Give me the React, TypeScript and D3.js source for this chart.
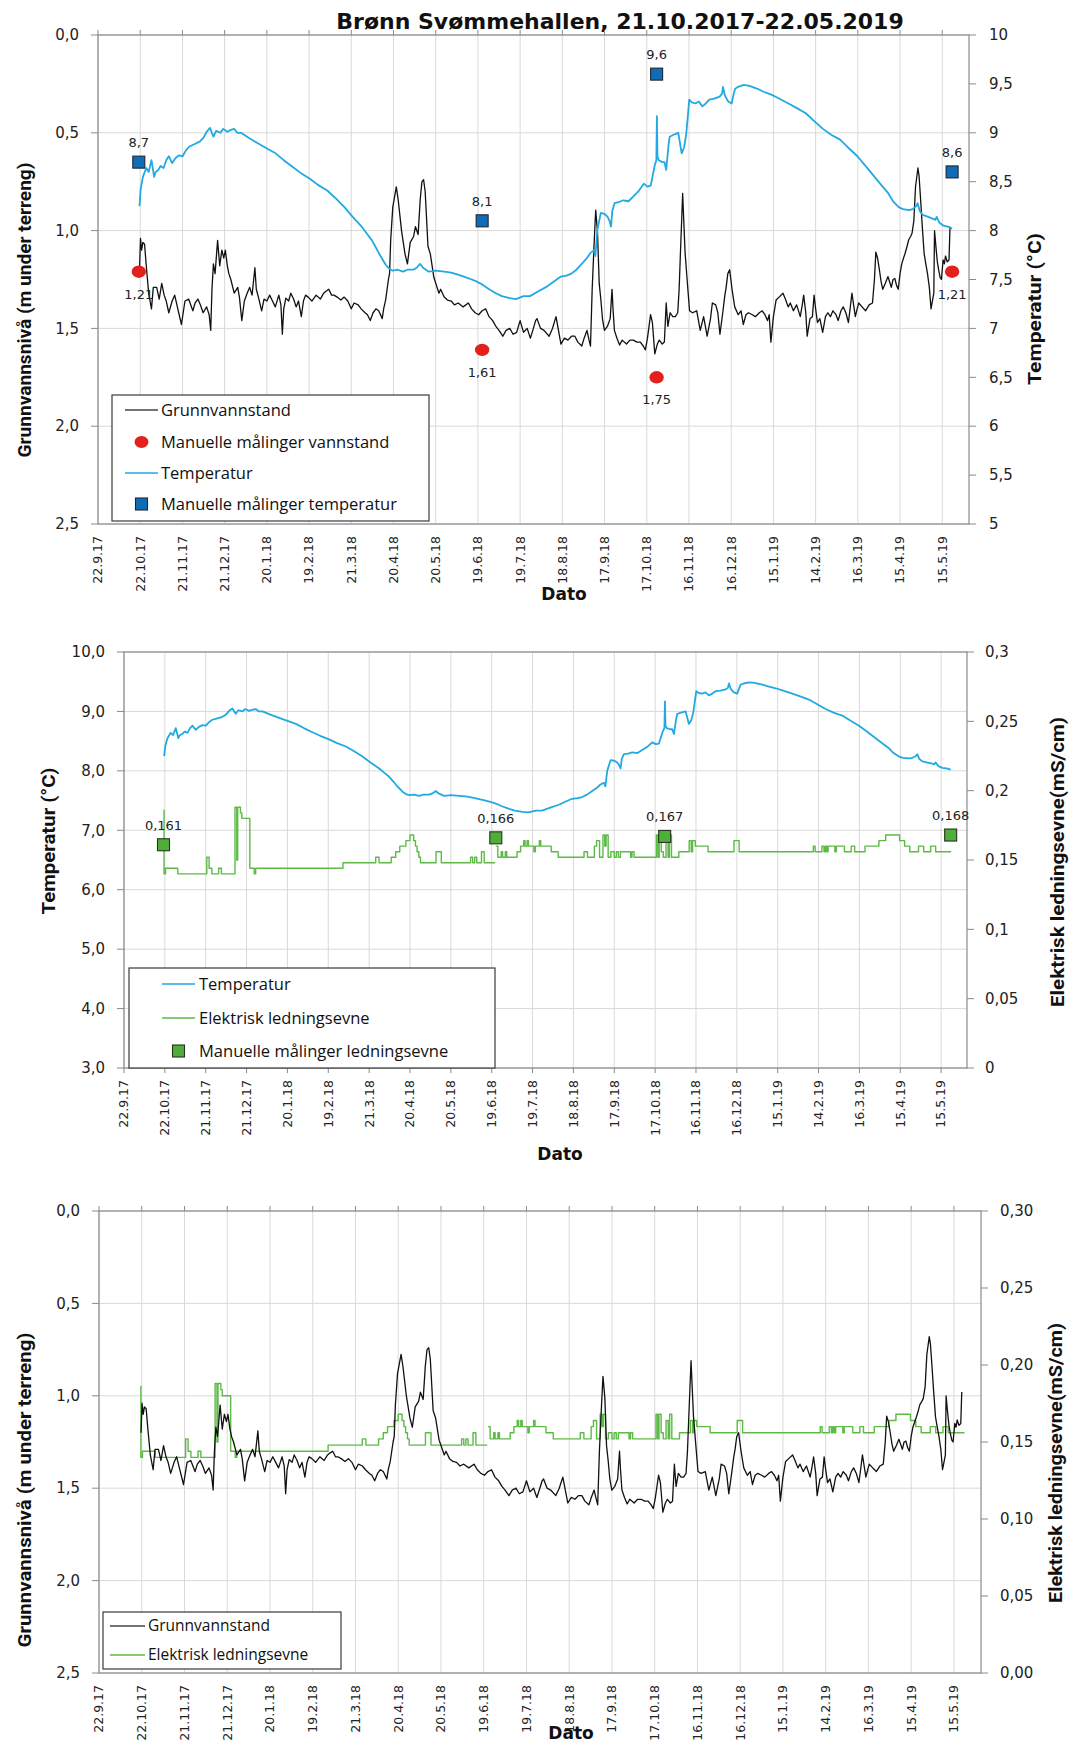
import React from "react";
import * as d3 from "d3";

const W = 1071;
const H = 1746;

// x axis: Excel date axis, labels every 30 days
const xTickLabels = [
  "22.9.17", "22.10.17", "21.11.17", "21.12.17", "20.1.18", "19.2.18", "21.3.18",
  "20.4.18", "20.5.18", "19.6.18", "19.7.18", "18.8.18", "17.9.18", "17.10.18",
  "16.11.18", "16.12.18", "15.1.19", "14.2.19", "16.3.19", "15.4.19", "15.5.19",
];
const xAxisEnd = "3.6.19";

const levelTicks = [0, 0.5, 1, 1.5, 2, 2.5];
const tempTicksFine = [5, 5.5, 6, 6.5, 7, 7.5, 8, 8.5, 9, 9.5, 10];
const tempTicksCoarse = [3, 4, 5, 6, 7, 8, 9, 10];
const condTicks = [0, 0.05, 0.1, 0.15, 0.2, 0.25, 0.3];

// manual measurements
const manualDates = ["21.10.17", "22.6.18", "24.10.18", "22.5.19"];
const manualLevel = [1.21, 1.61, 1.75, 1.21];
const manualTemp = [8.7, 8.1, 9.6, 8.6];
const manualCond = [0.161, 0.166, 0.167, 0.168];

// logger series: [days after 22.9.17, value]
// groundwater level, m below ground
const levelSeries: [number, number][] = [
  [29.5, 1.2], [30.2, 1.04], [31, 1.1], [31.9, 1.06], [33.1, 1.07], [34.3, 1.18], [36, 1.32], [38, 1.4],
  [39.3, 1.29], [41.7, 1.29], [43.5, 1.35], [45.3, 1.27], [47, 1.33], [48.5, 1.36], [50.3, 1.42], [52.7, 1.36],
  [54.5, 1.33], [56.4, 1.39], [59.3, 1.48], [61.8, 1.36], [64.4, 1.35], [67.4, 1.41], [69, 1.37], [71, 1.35],
  [72.8, 1.38], [74.7, 1.42], [77.2, 1.39], [79, 1.43], [80.1, 1.51], [81, 1.3], [82, 1.17], [83.2, 1.22],
  [85, 1.05], [86.5, 1.18], [88, 1.1], [89.4, 1.14], [90.5, 1.1], [91.9, 1.18], [93, 1.22], [94.4, 1.25],
  [96.8, 1.32], [99.3, 1.29], [100.5, 1.34], [102.2, 1.46], [104, 1.36], [106, 1.32], [107.8, 1.29], [109.5, 1.33],
  [111.5, 1.19], [112.5, 1.3], [114, 1.34], [116.3, 1.41], [118, 1.35], [120, 1.36], [122, 1.33], [124, 1.36],
  [126, 1.39], [128.5, 1.33], [130, 1.38], [131, 1.53], [132, 1.4], [133.5, 1.345], [135.5, 1.36], [137, 1.32],
  [139, 1.35], [140.8, 1.39], [142.5, 1.36], [144.5, 1.44], [146, 1.36], [147.5, 1.33], [149.4, 1.34], [152, 1.36],
  [155, 1.33], [158, 1.35], [160.4, 1.32], [162, 1.31], [164, 1.3], [166, 1.33], [167.7, 1.33], [170, 1.34],
  [172.6, 1.355], [175, 1.34], [177.5, 1.36], [180, 1.4], [182, 1.37], [184.9, 1.38], [187, 1.4], [189.8, 1.42],
  [191.5, 1.43], [193.5, 1.46], [195.5, 1.42], [197.5, 1.4], [199.5, 1.41], [202, 1.45], [203, 1.4], [204.4, 1.355],
  [206.4, 1.25], [207.2, 1.22], [208, 1.05], [209.5, 0.88], [212, 0.776], [213.3, 0.84], [215.7, 1.0], [218.2, 1.12],
  [219.9, 1.17], [221.9, 1.06], [224.3, 1.03], [225.6, 0.98], [227.5, 1.02], [229, 0.84], [230.2, 0.75], [231.4, 0.74],
  [232.5, 0.8], [233.3, 0.91], [234.5, 1.08], [236.2, 1.12], [238.7, 1.24], [240.5, 1.28], [242.3, 1.32], [243.5, 1.3],
  [246, 1.34], [248.4, 1.355], [251, 1.36], [253.3, 1.38], [256, 1.37], [259.5, 1.39], [263.2, 1.37], [265.5, 1.4],
  [268, 1.42], [270.5, 1.43], [273, 1.41], [275.5, 1.4], [277.9, 1.44], [280.5, 1.46], [282.8, 1.49], [285, 1.51],
  [287.7, 1.54], [290, 1.51], [292.6, 1.5], [295, 1.53], [297.5, 1.52], [300, 1.46], [302.4, 1.52], [305, 1.5],
  [307.3, 1.55], [309, 1.51], [311, 1.46], [312, 1.45], [314.5, 1.5], [317, 1.51], [320.6, 1.54], [323, 1.5],
  [325.5, 1.44], [327, 1.5], [329, 1.58], [331.5, 1.55], [334, 1.56], [336.5, 1.54], [338.9, 1.54], [341, 1.57],
  [343.8, 1.59], [345.5, 1.55], [347.5, 1.51], [349, 1.56], [350, 1.59], [351.2, 1.3], [352.5, 1.08], [353.7, 0.895],
  [355, 1.01], [356.2, 1.27], [357.4, 1.355], [358.5, 1.45], [359.9, 1.51], [362, 1.49], [364, 1.45], [365.3, 1.3],
  [366, 1.4], [367, 1.51], [368.8, 1.55], [370.7, 1.585], [372.5, 1.56], [375.6, 1.58], [378, 1.56], [380.5, 1.56],
  [383, 1.57], [385.4, 1.57], [387.5, 1.59], [389, 1.61], [390.5, 1.55], [392.7, 1.43], [394, 1.47], [395.7, 1.63],
  [397.5, 1.58], [398.9, 1.56], [401, 1.58], [402.5, 1.57], [403.8, 1.37], [405, 1.49], [406.6, 1.42], [408.5, 1.44],
  [410.3, 1.44], [412, 1.42], [413, 1.3], [414, 1.1], [415.5, 0.81], [417.2, 1.11], [419.2, 1.3], [420.4, 1.41],
  [422.5, 1.42], [425.5, 1.41], [428, 1.51], [430.4, 1.44], [432.9, 1.54], [435.3, 1.45], [436.6, 1.37], [439, 1.38],
  [440.5, 1.42], [442, 1.53], [444, 1.42], [445.5, 1.33], [446.4, 1.29], [447.6, 1.22], [448.9, 1.2], [450.6, 1.3],
  [452.5, 1.39], [455, 1.43], [457, 1.41], [458.6, 1.48], [460.5, 1.43], [462.3, 1.42], [465, 1.43], [467.2, 1.44],
  [470, 1.42], [472, 1.41], [474, 1.43], [475.8, 1.46], [477, 1.43], [478.2, 1.57], [480, 1.44], [481.9, 1.355],
  [484, 1.34], [486.8, 1.32], [488.5, 1.35], [490.5, 1.39], [492, 1.37], [494.2, 1.41], [496.5, 1.38], [499.1, 1.44],
  [500.5, 1.38], [501.5, 1.33], [503, 1.42], [504, 1.54], [506, 1.45], [507.7, 1.44], [508.9, 1.33], [510, 1.4],
  [511.3, 1.47], [513, 1.45], [515, 1.52], [517, 1.44], [518.7, 1.42], [520.5, 1.44], [522.3, 1.41], [524.5, 1.43],
  [526, 1.46], [528, 1.41], [529.6, 1.39], [531.5, 1.42], [533.3, 1.47], [534.5, 1.4], [535.8, 1.32], [537, 1.38],
  [538.2, 1.44], [539.5, 1.4], [540.6, 1.37], [543, 1.39], [545.5, 1.41], [548, 1.38], [550.4, 1.37], [551.8, 1.25],
  [552.8, 1.11], [554, 1.14], [555.3, 1.2], [556.5, 1.26], [557.7, 1.3], [559.5, 1.27], [561.4, 1.235], [562.5, 1.26],
  [563.8, 1.29], [565, 1.25], [566.3, 1.245], [567.5, 1.28], [568.7, 1.3], [570, 1.22], [571.2, 1.17], [572.5, 1.14],
  [573.6, 1.116], [575, 1.08], [576.1, 1.048], [577.5, 1.03], [578.5, 1.014], [579.8, 0.95], [581, 0.776], [582.7, 0.68],
  [583.5, 0.72], [584.6, 0.84], [585.8, 0.98], [587.1, 1.116], [588.3, 1.17], [589.5, 1.22], [590.8, 1.29], [592, 1.4],
  [593, 1.36], [594, 1.32], [594.5, 1.0], [595.7, 1.1], [596.5, 1.16], [597.4, 1.2], [598.5, 1.24], [599.4, 1.25],
  [600.6, 1.15], [601.5, 1.17], [602.3, 1.13], [603.5, 1.16], [604.8, 1.15], [605.5, 0.98],
];

// temperature, °C
const temperatureSeries: [number, number][] = [
  [29.5, 8.25], [30.3, 8.42], [31.9, 8.55], [34.3, 8.64], [36, 8.6], [38, 8.72], [39.9, 8.55], [41, 8.6],
  [42.8, 8.62], [44.5, 8.66], [46.6, 8.64], [48.5, 8.72], [50.3, 8.76], [52.7, 8.69], [55, 8.74], [57.6, 8.77],
  [60.1, 8.76], [62.5, 8.82], [64.9, 8.86], [68, 8.88], [72.3, 8.91], [75, 8.95], [77.2, 9.01], [79.6, 9.05],
  [82, 8.96], [84, 9.02], [87, 9.0], [89, 9.04], [91.9, 9.01], [94.5, 9.03], [96.8, 9.04], [99, 9.0],
  [101.7, 9.0], [107, 8.95], [113.9, 8.89], [120, 8.84], [126.2, 8.79], [132, 8.72], [138.4, 8.65], [144, 8.59],
  [150.6, 8.53], [156, 8.47], [162.9, 8.41], [169, 8.33], [175.1, 8.24], [181, 8.14], [187.4, 8.04], [191, 7.97],
  [194.7, 7.9], [197, 7.84], [199.6, 7.77], [202, 7.71], [204.5, 7.65], [207, 7.61], [209.4, 7.59], [213, 7.6],
  [216.7, 7.58], [220, 7.6], [224, 7.6], [226.5, 7.62], [228.9, 7.66], [231, 7.62], [235, 7.58], [240, 7.59],
  [246, 7.58], [251, 7.57], [255.8, 7.55], [260, 7.53], [265.6, 7.5], [269, 7.48], [273, 7.45], [278, 7.4],
  [282.8, 7.36], [287, 7.33], [292.6, 7.31], [297, 7.3], [302.4, 7.33], [307, 7.33], [313, 7.38], [319.3, 7.43],
  [324, 7.48], [329, 7.53], [333, 7.54], [336.4, 7.56], [340, 7.6], [343.8, 7.66], [347, 7.71], [349.9, 7.77],
  [352.4, 7.8], [353.5, 7.74], [354.8, 8.0], [357.3, 8.18], [360, 8.17], [362.2, 8.14], [363.5, 8.1], [364.6, 8.04],
  [365.5, 8.2], [367.1, 8.28], [370, 8.29], [373.2, 8.31], [377, 8.3], [380.5, 8.35], [384, 8.4], [387.9, 8.48],
  [390.5, 8.45], [392.8, 8.46], [395.7, 8.67], [396.8, 8.72], [397.2, 9.17], [397.6, 8.76], [398.5, 8.72], [401, 8.7],
  [402.6, 8.7], [403.8, 8.62], [405.5, 8.88], [406.3, 8.96], [409, 8.98], [412.4, 9.0], [414.8, 8.79], [416.5, 8.85],
  [418, 8.98], [420.2, 9.34], [422, 9.31], [424.6, 9.3], [427, 9.32], [429.5, 9.27], [432, 9.3], [434.4, 9.34],
  [438, 9.35], [441.8, 9.37], [443.5, 9.4], [444.2, 9.47], [445.5, 9.38], [447.9, 9.32], [450.3, 9.3], [451.5, 9.38],
  [452.8, 9.45], [455, 9.47], [458.9, 9.49], [463, 9.48], [468.7, 9.45], [473, 9.42], [478.5, 9.39], [484, 9.35],
  [490.7, 9.3], [497, 9.25], [503, 9.2], [509, 9.12], [515.2, 9.04], [521, 8.98], [527.4, 8.93], [533, 8.85],
  [539.7, 8.76], [545, 8.67], [551.9, 8.55], [557, 8.46], [561.7, 8.38], [565, 8.3], [569.1, 8.24], [572, 8.22],
  [576.4, 8.21], [579, 8.22], [581.5, 8.25], [582.5, 8.28], [584, 8.2], [586.2, 8.16], [590, 8.14], [593.5, 8.12],
  [595, 8.11], [596, 8.14], [598, 8.08], [600.9, 8.05], [604, 8.04], [607, 8.02],
];

// electrical conductivity, mS/cm (logger steps, null = gap)
const conductivitySeries: ([number, number] | null)[] = [
  [29.0, 0.186], [29.4, 0.14], [30.5, 0.144], [39.5, 0.14], [60.8, 0.152], [62.5, 0.144], [64.5, 0.14], [69.5, 0.144],
  [71.5, 0.14], [81.5, 0.188], [82.8, 0.15], [83.5, 0.188], [85.5, 0.184], [86.5, 0.18], [92.4, 0.144], [95.6, 0.14],
  [96.7, 0.144], [160.8, 0.148], [184.8, 0.152], [187.3, 0.148], [196.2, 0.152], [199.5, 0.156], [202.5, 0.16], [207, 0.164],
  [210, 0.168], [212.7, 0.164], [214, 0.16], [215.2, 0.156], [216.5, 0.152], [217.7, 0.148], [229.1, 0.156], [233, 0.148],
  [254.5, 0.152], [256, 0.148], [257.5, 0.152], [259, 0.148], [262.5, 0.156], [264.5, 0.148], [272.5, 0.148],
  null,
  [273, 0.16], [274.5, 0.152], [277, 0.156], [278, 0.152], [280, 0.156], [281, 0.152], [284, 0.152], [288.6, 0.156],
  [291.2, 0.16], [293.5, 0.164], [294.5, 0.16], [296, 0.164], [297, 0.16], [300, 0.16], [301, 0.156], [302, 0.16],
  [305, 0.164], [306, 0.16], [311.2, 0.16], [313.7, 0.156], [318.8, 0.152], [337.8, 0.156], [340.3, 0.152], [345.4, 0.16],
  [347, 0.164], [349.2, 0.152], [351.7, 0.168], [353, 0.16], [354, 0.168], [355.5, 0.152], [357.5, 0.156], [360, 0.152],
  [361.5, 0.156], [363, 0.152], [364.5, 0.156], [372, 0.152], [373, 0.156], [374.5, 0.152], [390.9, 0.168], [392, 0.152],
  [393, 0.168], [394.5, 0.156], [396, 0.152], [398, 0.164], [399.5, 0.152], [400.5, 0.168], [402, 0.152], [407.4, 0.156],
  [415, 0.164], [416.5, 0.156], [417.5, 0.164], [419.5, 0.16], [424, 0.16], [428.9, 0.156], [447.9, 0.164], [451.7, 0.156],
  [506.2, 0.16], [507.5, 0.156], [512.5, 0.16], [514, 0.156], [515, 0.16], [516, 0.156], [517, 0.16], [522, 0.156],
  [523, 0.16], [529, 0.156], [534, 0.16], [536.5, 0.156], [544.1, 0.16], [554.3, 0.164], [559.3, 0.168], [569.5, 0.164],
  [573.2, 0.16], [577, 0.156], [583.4, 0.16], [587.2, 0.156], [592.3, 0.16], [596, 0.156], [607.4, 0.156],
];

const parseDate = d3.timeParse("%d.%m.%y");
const axisStart = parseDate(xTickLabels[0]) as Date;
const dayToDate = (d: number) => new Date(+axisStart + d * 864e5);
const comma = (s: string) => s.replace(".", ",");

const TICK_FONT = "DejaVu Sans, Verdana, sans-serif";
const TEXT_FONT = "Open Sans, DejaVu Sans, sans-serif";
const TITLE_FONT = "Roboto, Open Sans, sans-serif";

const BLACK = "#111111";
const BLUE = "#22a9e1";
const GREEN = "#5dba47";

type Pt = [number, number] | null;
interface AxisSpec {
  domain: [number, number]; // value at top, value at bottom
  ticks: number[];
  fmt: (v: number) => string;
  labelGap: number;
  title: string;
  titleX: number;
  titleY: number;
  titleLen: number;
}
interface SeriesSpec {
  data: Pt[];
  axis: "left" | "right";
  color: string;
  width: number;
  step?: boolean;
}
interface MarkerSpec {
  shape: "ellipse" | "square";
  values: number[];
  axis: "left" | "right";
  fill: string;
  stroke: string;
  labelDy: number;
}
interface LegendItem {
  label: string;
  kind: "line" | "ellipse" | "square";
  color: string;
  stroke?: string;
}
interface ChartProps {
  left: number;
  right: number;
  top: number;
  bottom: number;
  xTicksTop: boolean;
  leftAxis: AxisSpec;
  rightAxis: AxisSpec;
  series: SeriesSpec[];
  markers: MarkerSpec[];
  legend: {
    x: number; y: number; w: number; h: number; rows: number[];
    lineX: [number, number]; textX: number; fontSize: number; items: LegendItem[];
  };
  dato: [number, number];
}

function DualChart(p: ChartProps) {
  const x = d3.scaleTime()
    .domain([axisStart, parseDate(xAxisEnd) as Date])
    .range([p.left, p.right]);
  const yL = d3.scaleLinear().domain(p.leftAxis.domain).range([p.top, p.bottom]);
  const yR = d3.scaleLinear().domain(p.rightAxis.domain).range([p.top, p.bottom]);
  const yOf = (a: "left" | "right") => (a === "left" ? yL : yR);

  const lg = p.legend;

  return (
    <g>
      {/* grid */}
      {xTickLabels.map((t) => {
        const xx = x(parseDate(t) as Date);
        return <line key={"gx" + t} x1={xx} x2={xx} y1={p.top} y2={p.bottom} stroke="#d9d9d9" />;
      })}
      {p.leftAxis.ticks.map((v) => (
        <line key={"gy" + v} x1={p.left} x2={p.right} y1={yL(v)} y2={yL(v)} stroke="#d9d9d9" />
      ))}

      {/* series */}
      {p.series.map((s, i) => {
        const y = yOf(s.axis);
        const line = d3.line<Pt>()
          .defined((d) => d !== null)
          .x((d) => x(dayToDate((d as [number, number])[0])))
          .y((d) => y((d as [number, number])[1]))
          .curve(s.step ? d3.curveStepAfter : d3.curveLinear);
        return (
          <path key={"s" + i} d={line(s.data) || ""} fill="none" stroke={s.color}
            strokeWidth={s.width} strokeLinejoin="round" />
        );
      })}

      {/* frame */}
      <rect x={p.left} y={p.top} width={p.right - p.left} height={p.bottom - p.top}
        fill="none" stroke="#8a8a8a" strokeWidth={1.2} />

      {/* x ticks + labels */}
      {xTickLabels.map((t) => {
        const xx = x(parseDate(t) as Date);
        const ty = p.xTicksTop ? p.top : p.bottom;
        return (
          <g key={"xt" + t}>
            <line x1={xx} x2={xx} y1={ty} y2={p.xTicksTop ? ty - 5 : ty + 5} stroke="#8a8a8a" />
            <text transform={`translate(${xx},${p.bottom + 12}) rotate(-90)`} textAnchor="end"
              dy="0.35em" fontFamily={TICK_FONT} fontSize={12.5} fill="#222">{t}</text>
          </g>
        );
      })}

      {/* left axis */}
      {p.leftAxis.ticks.map((v) => (
        <g key={"ly" + v}>
          <line x1={p.left - 7} x2={p.left} y1={yL(v)} y2={yL(v)} stroke="#8a8a8a" />
          <text x={p.left - p.leftAxis.labelGap} y={yL(v)} dy="0.35em" textAnchor="end"
            fontFamily={TICK_FONT} fontSize={15} fill="#222">{p.leftAxis.fmt(v)}</text>
        </g>
      ))}
      {/* right axis */}
      {p.rightAxis.ticks.map((v) => (
        <g key={"ry" + v}>
          <line x1={p.right} x2={p.right + 7} y1={yR(v)} y2={yR(v)} stroke="#8a8a8a" />
          <text x={p.right + p.rightAxis.labelGap} y={yR(v)} dy="0.35em" textAnchor="start"
            fontFamily={TICK_FONT} fontSize={15} fill="#222">{p.rightAxis.fmt(v)}</text>
        </g>
      ))}

      {/* axis titles */}
      {[p.leftAxis, p.rightAxis].map((a, i) => (
        <text key={"at" + i} transform={`translate(${a.titleX},${a.titleY}) rotate(-90)`}
          textAnchor="middle" dy="0.35em" fontFamily={TITLE_FONT} fontWeight="bold" fontSize={19}
          textLength={a.titleLen} lengthAdjust="spacingAndGlyphs" fill="#111">{a.title}</text>
      ))}
      <text x={p.dato[0]} y={p.dato[1]} textAnchor="middle" fontFamily={TICK_FONT}
        fontWeight="bold" fontSize={17} fill="#111">Dato</text>

      {/* manual measurements */}
      {p.markers.map((m, mi) => {
        const y = yOf(m.axis);
        return (
          <g key={"m" + mi}>
            {m.values.map((v, i) => {
              const cx = x(parseDate(manualDates[i]) as Date);
              const cy = y(v);
              return (
                <g key={i}>
                  {m.shape === "ellipse" ? (
                    <ellipse cx={cx} cy={cy} rx={7.2} ry={6.2} fill={m.fill} />
                  ) : (
                    <rect x={cx - 6} y={cy - 6} width={12} height={12} fill={m.fill}
                      stroke={m.stroke} strokeWidth={1.1} />
                  )}
                  <text x={cx} y={cy + m.labelDy} textAnchor="middle" fontFamily={TICK_FONT}
                    fontSize={13} fill="#222">{comma(String(v))}</text>
                </g>
              );
            })}
          </g>
        );
      })}

      {/* legend */}
      <rect x={lg.x} y={lg.y} width={lg.w} height={lg.h} fill="#fff" stroke="#3a3a3a" strokeWidth={1.2} />
      {lg.items.map((it, i) => {
        const cy = lg.rows[i];
        const mx = (lg.lineX[0] + lg.lineX[1]) / 2;
        return (
          <g key={"lg" + i}>
            {it.kind === "line" && (
              <line x1={lg.lineX[0]} x2={lg.lineX[1]} y1={cy} y2={cy} stroke={it.color} strokeWidth={1.6} />
            )}
            {it.kind === "ellipse" && <ellipse cx={mx} cy={cy} rx={7} ry={6} fill={it.color} />}
            {it.kind === "square" && (
              <rect x={mx - 6} y={cy - 6} width={12} height={12} fill={it.color} stroke={it.stroke} strokeWidth={1.1} />
            )}
            <text x={lg.textX} y={cy} dy="0.35em" fontFamily={TEXT_FONT} fontSize={lg.fontSize} fill="#111">
              {it.label}
            </text>
          </g>
        );
      })}
    </g>
  );
}

const f1 = (v: number) => comma(d3.format(".1f")(v));
const fg = (v: number) => comma(d3.format("~g")(v));
const f2 = (v: number) => comma(d3.format(".2f")(v));

const levelTitle = "Grunnvannsnivå (m under terreng)";
const tempTitle = "Temperatur (°C)";
const condTitle = "Elektrisk ledningsevne(mS/cm)";

export default function App() {
  return (
    <svg width={W} height={H} viewBox={`0 0 ${W} ${H}`}
      style={{ position: "absolute", left: 0, top: 0, background: "#fff" }}>
      <rect width={W} height={H} fill="#fff" />
      <text x={620} y={29} textAnchor="middle" fontFamily={TICK_FONT} fontWeight="bold"
        fontSize={22} fill="#111">Brønn Svømmehallen, 21.10.2017-22.05.2019</text>

      {/* chart 1: level + temperature */}
      <DualChart
        left={98} right={969} top={35} bottom={524} xTicksTop
        leftAxis={{ domain: [0, 2.5], ticks: levelTicks, fmt: f1, labelGap: 19,
          title: levelTitle, titleX: 24, titleY: 310, titleLen: 295 }}
        rightAxis={{ domain: [10, 5], ticks: tempTicksFine, fmt: fg, labelGap: 20,
          title: tempTitle, titleX: 1034, titleY: 309, titleLen: 152 }}
        series={[
          { data: levelSeries, axis: "left", color: BLACK, width: 1.3 },
          { data: temperatureSeries, axis: "right", color: BLUE, width: 1.8 },
        ]}
        markers={[
          { shape: "ellipse", values: manualLevel, axis: "left", fill: "#e3211c", stroke: "none", labelDy: 27 },
          { shape: "square", values: manualTemp, axis: "right", fill: "#0f6cb6", stroke: "#1d2733", labelDy: -15 },
        ]}
        legend={{ x: 112, y: 395, w: 317, h: 126, rows: [410, 442, 473, 504], lineX: [125, 158], textX: 161,
          fontSize: 16.5, items: [
            { label: "Grunnvannstand", kind: "line", color: "#444" },
            { label: "Manuelle målinger vannstand", kind: "ellipse", color: "#e3211c" },
            { label: "Temperatur", kind: "line", color: BLUE },
            { label: "Manuelle målinger temperatur", kind: "square", color: "#0f6cb6", stroke: "#1d2733" },
          ] }}
        dato={[564, 600]}
      />

      {/* chart 2: temperature + conductivity */}
      <DualChart
        left={124} right={967} top={652} bottom={1068} xTicksTop={false}
        leftAxis={{ domain: [10, 3], ticks: tempTicksCoarse, fmt: f1, labelGap: 19,
          title: tempTitle, titleX: 48, titleY: 841, titleLen: 147 }}
        rightAxis={{ domain: [0.3, 0], ticks: condTicks, fmt: fg, labelGap: 18,
          title: condTitle, titleX: 1057, titleY: 862, titleLen: 290 }}
        series={[
          { data: temperatureSeries, axis: "left", color: BLUE, width: 1.8 },
          { data: conductivitySeries, axis: "right", color: GREEN, width: 1.4, step: true },
        ]}
        markers={[
          { shape: "square", values: manualCond, axis: "right", fill: "#4fae3a", stroke: "#26351f", labelDy: -15 },
        ]}
        legend={{ x: 129, y: 968, w: 366, h: 100, rows: [984, 1018, 1051], lineX: [162, 195], textX: 199,
          fontSize: 16.5, items: [
            { label: "Temperatur", kind: "line", color: BLUE },
            { label: "Elektrisk ledningsevne", kind: "line", color: GREEN },
            { label: "Manuelle målinger ledningsevne", kind: "square", color: "#4fae3a", stroke: "#26351f" },
          ] }}
        dato={[560, 1160]}
      />

      {/* chart 3: level + conductivity */}
      <DualChart
        left={99} right={981} top={1211} bottom={1673} xTicksTop
        leftAxis={{ domain: [0, 2.5], ticks: levelTicks, fmt: f1, labelGap: 19,
          title: levelTitle, titleX: 24, titleY: 1490, titleLen: 315 }}
        rightAxis={{ domain: [0.3, 0], ticks: condTicks, fmt: f2, labelGap: 19,
          title: condTitle, titleX: 1055, titleY: 1463, titleLen: 280 }}
        series={[
          { data: conductivitySeries, axis: "right", color: GREEN, width: 1.4, step: true },
          { data: levelSeries, axis: "left", color: BLACK, width: 1.3 },
        ]}
        markers={[]}
        legend={{ x: 103, y: 1612, w: 238, h: 57, rows: [1626, 1655], lineX: [110, 145], textX: 148,
          fontSize: 15.5, items: [
            { label: "Grunnvannstand", kind: "line", color: "#444" },
            { label: "Elektrisk ledningsevne", kind: "line", color: GREEN },
          ] }}
        dato={[571, 1739]}
      />
    </svg>
  );
}
